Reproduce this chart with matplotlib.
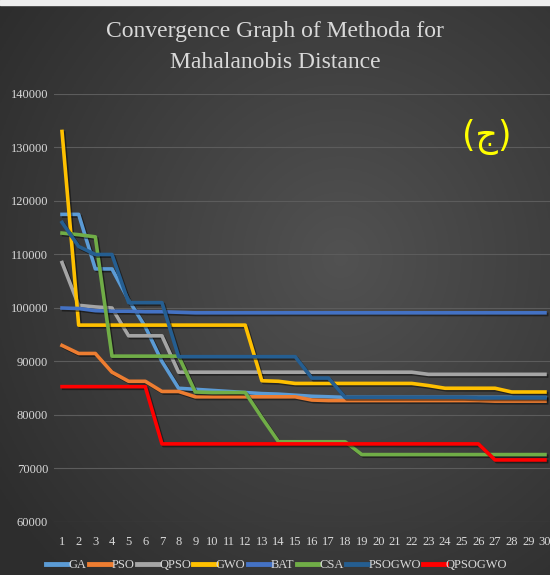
import numpy as np
import matplotlib
matplotlib.use("Agg")
import matplotlib.pyplot as plt
import matplotlib.patheffects as pe

# Data
iterations = list(range(1, 31))

ga = [117500, 117500, 107300, 107300, 101500, 96500, 90000, 85000, 84800, 84600,
      84400, 84200, 84000, 83900, 83700, 83500, 83400, 83300, 83300, 83300,
      83300, 83300, 83300, 83300, 83300, 83300, 83300, 83300, 83300, 83300]
pso = [93000, 91500, 91500, 88000, 86300, 86300, 84400, 84400, 83400, 83400,
       83400, 83400, 83400, 83400, 83400, 82800, 82700, 82700, 82700, 82700,
       82700, 82700, 82700, 82700, 82700, 82700, 82600, 82600, 82600, 82600]
qpso = [108500, 100500, 100200, 100000, 94800, 94800, 94800, 88000, 88000, 88000,
        88000, 88000, 88000, 88000, 88000, 88000, 88000, 88000, 88000, 88000,
        88000, 88000, 87600, 87600, 87600, 87600, 87600, 87600, 87600, 87600]
gwo = [133000, 96800, 96800, 96800, 96800, 96800, 96800, 96800, 96800, 96800,
       96800, 96800, 86400, 86300, 85900, 85900, 85900, 85900, 85900, 85900,
       85900, 85900, 85500, 85000, 85000, 85000, 85000, 84300, 84300, 84300]
bat = [100000, 99900, 99500, 99400, 99400, 99300, 99300, 99200, 99100, 99100,
       99100, 99100, 99100, 99100, 99100, 99100, 99100, 99100, 99100, 99100,
       99100, 99100, 99100, 99100, 99100, 99100, 99100, 99100, 99100, 99100]
csa = [114000, 113700, 113300, 91000, 91000, 91000, 91000, 91000, 84300, 84200,
       84200, 84200, 79500, 75000, 75000, 75000, 75000, 75000, 72600, 72600,
       72600, 72600, 72600, 72600, 72600, 72600, 72600, 72600, 72600, 72600]
psogwo = [116000, 111500, 110000, 110000, 101000, 101000, 101000, 90900, 90900, 90900,
          90900, 90900, 90900, 90900, 90900, 86900, 86900, 83300, 83300, 83300,
          83300, 83300, 83300, 83300, 83300, 83200, 83200, 83200, 83200, 83200]
qpsogwo = [85300, 85300, 85300, 85300, 85300, 85300, 74600, 74600, 74600, 74600,
           74600, 74600, 74600, 74600, 74600, 74600, 74600, 74600, 74600, 74600,
           74600, 74600, 74600, 74600, 74600, 74600, 71600, 71600, 71600, 71600]

series_names = ["GA", "PSO", "QPSO", "GWO", "BAT", "CSA", "PSOGWO", "QPSOGWO"]
series_values = [ga, pso, qpso, gwo, bat, csa, psogwo, qpsogwo]
series_colors = ["#5B9BD5", "#ED7D31", "#A5A5A5", "#FFC000",
                 "#4472C4", "#70AD47", "#255E91", "#FF0000"]

y_ticks = list(range(60000, 140001, 10000))

TEXT_COLOR = "#D9D9D9"
SERIF = "Liberation Serif"

W, H = 550, 575
fig = plt.figure(figsize=(W / 100, H / 100), dpi=100)

# dark radial background like the Excel chart style
bg = fig.add_axes([0, 0, 1, 1], zorder=-10)
gx, gy = np.meshgrid(np.linspace(0, 1, 275), np.linspace(0, 1, 288))
r = np.sqrt(((gx - 0.62) / 0.9) ** 2 + ((gy - 0.45) / 0.9) ** 2)
shade = np.clip(0.32 - 0.17 * r, 0.18, 0.32)
img = np.dstack([shade, shade, shade])
bg.imshow(img, extent=[0, 1, 0, 1], aspect="auto", origin="upper")
bg.axhspan(1 - 5 / H, 1, color="#EDEDED")
bg.set_xlim(0, 1)
bg.set_ylim(0, 1)
bg.axis("off")

# plot area (category axis: bins centred on 1..30, right edge runs past the figure)
left = 53.7 / W
right = 553.3 / W
bottom = 1 - 522 / H
top = 1 - 94 / H
ax = fig.add_axes([left, bottom, right - left, top - bottom])
ax.set_facecolor("none")

shadow = [pe.SimpleLineShadow(offset=(1.2, -1.2), shadow_color="black", alpha=0.45),
          pe.Normal()]
for name, vals, col in zip(series_names, series_values, series_colors):
    ax.plot(iterations, vals, color=col, lw=2.6, label=name,
            solid_joinstyle="round", path_effects=shadow)

ax.set_xlim(0.5, 30.5)
ax.set_ylim(60000, 140000)
ax.set_xticks(iterations)
ax.set_xticklabels([str(i) for i in iterations])
ax.set_yticks(y_ticks)
ax.set_yticklabels([str(v) for v in y_ticks])
ax.grid(axis="y", color="#5C5C5C", lw=0.8)
ax.set_axisbelow(True)
for s in ax.spines.values():
    s.set_visible(False)
ax.tick_params(axis="both", length=0, colors=TEXT_COLOR)
ax.tick_params(axis="x", pad=10)
ax.tick_params(axis="y", pad=4)
for lab in ax.get_xticklabels() + ax.get_yticklabels():
    lab.set_fontfamily(SERIF)
    lab.set_fontsize(9)

fig.text(0.5, 1 - 31 / H, "Convergence Graph of Methoda for", ha="center", va="center",
         fontsize=17, color=TEXT_COLOR, family=SERIF)
fig.text(0.5, 1 - 62 / H, "Mahalanobis Distance", ha="center", va="center",
         fontsize=17, color=TEXT_COLOR, family=SERIF)

fig.text(487 / W, 1 - 137 / H, "(ج)", ha="center", va="center",
         fontsize=25, color="#FFFF00", family=["DejaVu Sans"])

leg = fig.legend(loc="center", bbox_to_anchor=(0.503, 1 - 565 / H), ncol=8,
                 frameon=False, handlelength=1.8, handletextpad=0.0,
                 columnspacing=0.2, prop={"family": SERIF, "size": 9})
for t in leg.get_texts():
    t.set_color(TEXT_COLOR)
for h in leg.legend_handles:
    h.set_linewidth(3.5)
    h.set_path_effects([])

fig.savefig("out.png", dpi=100)
